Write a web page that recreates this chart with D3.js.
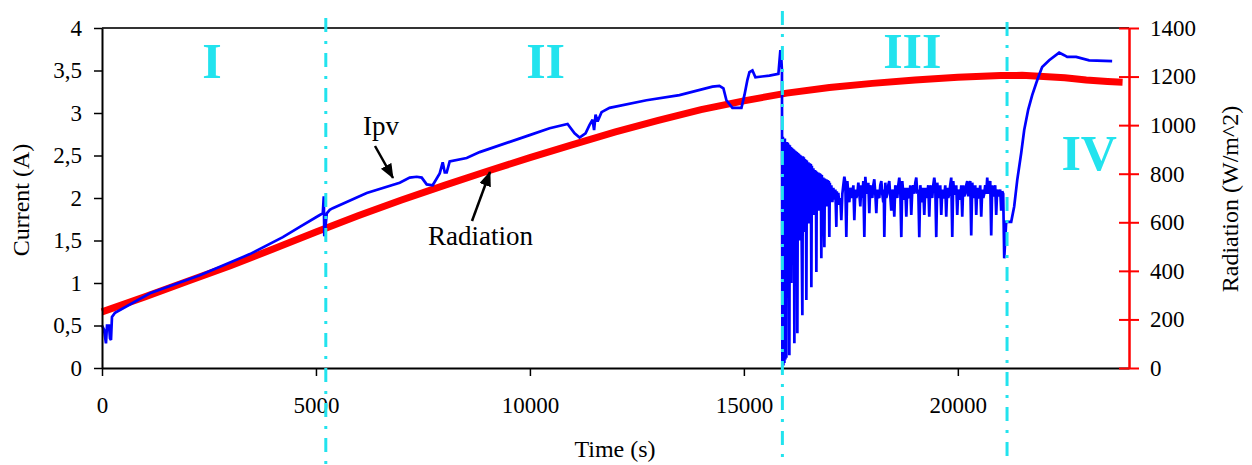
<!DOCTYPE html>
<html>
<head>
<meta charset="utf-8">
<script src="https://cdn.jsdelivr.net/npm/d3@7"></script>
<style>
  body { margin: 0; background: #fff; }
  text { font-family: "Liberation Serif", "Times New Roman", serif; fill: #000; }
</style>
</head>
<body>
<svg width="1252" height="465"></svg>
<script>
// tick values
var timeTicks = [0, 5000, 10000, 15000, 20000];
var currentTicks = [0, 0.5, 1, 1.5, 2, 2.5, 3, 3.5, 4];
var radiationTicks = [0, 200, 400, 600, 800, 1000, 1200, 1400];

// phase boundaries (s) and names
var phaseBounds = [5230, 15900, 21150];
var phaseNames = ["I", "II", "III", "IV"];

// radiation (W/m^2) vs time (s)
var radiation = [
  [0, 231], [1000, 293], [2000, 357], [3000, 421], [4000, 490], [5000, 560],
  [6000, 628], [7000, 692], [8000, 752], [9000, 810], [10000, 866], [11000, 920],
  [12000, 972], [13000, 1020], [14000, 1064], [15000, 1100], [16000, 1132],
  [17000, 1155], [18000, 1172], [19000, 1186], [20000, 1197], [21000, 1204],
  [21500, 1205], [22000, 1200], [22500, 1195], [23000, 1186], [23500, 1180], [23850, 1177]
];

// Ipv (A) vs time (s), phases I and II
var ipvRise = [
  [0, 0.5], [47, 0.45], [93, 0.29], [117, 0.5], [163, 0.5], [187, 0.35], [210, 0.33],
  [233, 0.6], [304, 0.65], [1121, 0.88], [2288, 1.09], [3455, 1.34], [4226, 1.54],
  [4623, 1.66], [5090, 1.8], [5160, 1.82], [5183, 2.02], [5195, 1.55], [5210, 1.6],
  [5253, 1.82], [5323, 1.86], [5393, 1.88], [6187, 2.06], [6958, 2.18], [7191, 2.24],
  [7355, 2.25], [7471, 2.24], [7588, 2.16], [7728, 2.15], [7892, 2.29], [7962, 2.42],
  [8010, 2.3], [8055, 2.3], [8125, 2.43], [8522, 2.47], [8826, 2.54], [9993, 2.74],
  [10460, 2.82], [10880, 2.87], [11044, 2.76], [11160, 2.71], [11300, 2.76], [11394, 2.86],
  [11464, 2.92], [11500, 2.8], [11534, 2.98], [11581, 2.9], [11674, 3.01], [11861, 3.06],
  [12725, 3.15], [13495, 3.21], [14266, 3.31], [14429, 3.32], [14522, 3.29], [14592, 3.15],
  [14732, 3.06], [14943, 3.06], [15013, 3.21], [15083, 3.39], [15130, 3.48], [15200, 3.5],
  [15270, 3.42], [15597, 3.44], [15807, 3.46], [15853, 3.74], [15877, 3.62], [15890, 3.5]
];

// Ipv phase III (oscillation)
var ipvOscillation = [
  [15900, 0.05], [15912, 2.72], [15923, 0.03], [15935, 2.7], [15947, 0.06], [15958, 2.7],
  [15970, 0.1], [15982, 2.66], [15993, 0.12], [16005, 2.66], [16017, 1.6], [16028, 2.65],
  [16040, 1.2], [16052, 2.63], [16063, 0.15], [16075, 2.62], [16087, 1.5], [16098, 2.6],
  [16110, 1.0], [16122, 2.59], [16134, 1.7], [16145, 2.58], [16157, 1.4], [16168, 2.57],
  [16180, 0.29], [16192, 2.56], [16204, 1.6], [16215, 2.55], [16227, 1.3], [16239, 2.54],
  [16250, 0.41], [16262, 2.53], [16274, 1.7], [16285, 2.52], [16297, 1.5], [16309, 2.51],
  [16320, 1.8], [16332, 2.5], [16367, 0.62], [16379, 2.49], [16390, 1.7], [16402, 2.48],
  [16414, 1.6], [16425, 2.46], [16437, 1.8], [16449, 2.45], [16460, 0.8], [16472, 2.44],
  [16484, 1.75], [16507, 2.42], [16530, 1.7], [16542, 2.41], [16554, 1.85], [16565, 2.4],
  [16577, 0.95], [16589, 2.38], [16600, 1.8], [16624, 2.35], [16647, 1.8], [16659, 2.33],
  [16670, 1.9], [16682, 2.32], [16694, 1.13], [16705, 2.31], [16717, 1.9], [16740, 2.3],
  [16764, 1.85], [16775, 2.29], [16787, 1.95], [16799, 2.28], [16810, 1.29], [16822, 2.27],
  [16834, 1.9], [16857, 2.24], [16881, 1.42], [16892, 2.23], [16904, 1.95], [16927, 2.22],
  [16951, 1.9], [16962, 2.21], [16974, 2.0], [16986, 2.2], [16997, 1.54], [17009, 2.18],
  [17021, 1.95], [17044, 2.15], [17068, 1.95], [17091, 2.12], [17114, 1.98], [17138, 2.1],
  [17161, 1.66], [17172, 2.08], [17184, 1.95], [17207, 2.06], [17231, 1.92], [17254, 2.0],
  [17277, 1.74], [17301, 2.05], [17324, 2.15], [17348, 2.25], [17371, 2.18], [17394, 1.54],
  [17418, 2.2], [17441, 2.05], [17464, 1.95], [17488, 2.12], [17511, 2.08], [17534, 2.0],
  [17558, 2.15], [17581, 1.74], [17605, 2.1], [17628, 2.0], [17651, 2.05], [17675, 2.18],
  [17698, 2.05], [17721, 1.9], [17745, 2.15], [17768, 2.0], [17791, 2.2], [17815, 1.54],
  [17838, 2.25], [17862, 2.1], [17885, 2.05], [17908, 2.18], [17931, 1.82], [17955, 2.15],
  [17978, 2.05], [18002, 2.0], [18025, 2.15], [18048, 2.22], [18072, 2.05], [18095, 1.82],
  [18118, 2.1], [18142, 2.02], [18165, 2.0], [18188, 2.15], [18212, 2.2], [18235, 2.05],
  [18258, 1.95], [18270, 2.1], [18282, 1.54], [18305, 2.18], [18328, 2.0], [18352, 2.05],
  [18375, 2.15], [18398, 2.2], [18422, 2.02], [18445, 1.85], [18469, 2.1], [18492, 2.05],
  [18515, 1.78], [18539, 2.15], [18562, 2.05], [18585, 2.0], [18609, 2.15], [18632, 2.24],
  [18655, 2.1], [18679, 1.54], [18702, 2.2], [18726, 2.05], [18749, 1.98], [18772, 2.12],
  [18796, 1.78], [18819, 2.12], [18842, 2.02], [18866, 2.0], [18889, 2.15], [18912, 1.8],
  [18936, 2.1], [18959, 2.15], [18982, 2.05], [19006, 2.18], [19029, 2.24], [19052, 2.05],
  [19076, 2.1], [19099, 1.54], [19122, 2.15], [19146, 2.05], [19169, 1.95], [19192, 2.12],
  [19216, 1.8], [19239, 2.12], [19262, 2.0], [19286, 2.05], [19309, 2.15], [19332, 1.78],
  [19356, 2.15], [19379, 2.05], [19402, 2.0], [19426, 2.15], [19449, 2.24], [19472, 2.15],
  [19496, 1.54], [19519, 2.18], [19542, 2.05], [19566, 2.0], [19589, 2.15], [19613, 1.8],
  [19636, 2.1], [19659, 2.0], [19683, 2.02], [19706, 2.15], [19729, 1.78], [19753, 2.12],
  [19776, 2.0], [19799, 2.05], [19822, 2.15], [19846, 2.24], [19870, 1.54], [19893, 2.2],
  [19916, 2.05], [19940, 2.05], [19963, 2.15], [19986, 1.8], [20010, 2.1], [20033, 2.02],
  [20056, 1.98], [20080, 2.15], [20103, 1.78], [20126, 2.15], [20150, 2.02], [20173, 2.05],
  [20196, 2.15], [20220, 2.2], [20243, 2.02], [20266, 2.1], [20290, 2.2], [20313, 1.56],
  [20337, 2.18], [20360, 2.05], [20383, 2.0], [20407, 2.15], [20430, 1.8], [20453, 2.12],
  [20477, 2.0], [20500, 2.02], [20523, 2.15], [20547, 1.78], [20570, 2.1], [20594, 2.0],
  [20617, 2.05], [20640, 2.15], [20664, 2.05], [20687, 2.24], [20710, 2.05], [20733, 2.1],
  [20757, 2.2], [20780, 1.56], [20803, 2.15], [20827, 2.02], [20850, 2.05], [20873, 2.15],
  [20897, 1.8], [20920, 2.1], [20943, 2.02], [20967, 2.05], [20990, 2.1], [21013, 1.85],
  [21037, 2.08], [21060, 2.05], [21084, 1.29]
];

// Ipv phase IV (recovery)
var ipvRecovery = [
  [21107, 1.5], [21130, 1.72], [21247, 1.72], [21317, 1.9], [21388, 2.21], [21481, 2.53],
  [21551, 2.8], [21645, 3.04], [21738, 3.21], [21831, 3.35], [21901, 3.45], [21971, 3.54],
  [22135, 3.62], [22368, 3.71], [22485, 3.68], [22555, 3.66], [22765, 3.66], [23069, 3.62],
  [23606, 3.61]
];

var svg = d3.select("svg");
var plotL = 102, plotR = 1129, plotT = 28, plotB = 368;

var x = d3.scaleLinear().domain([0, 24000]).range([plotL, plotR]);
var yI = d3.scaleLinear().domain([0, 4]).range([plotB, plotT]);
var yR = d3.scaleLinear().domain([0, 1400]).range([plotB, plotT]);

svg.append("rect").attr("width", 1252).attr("height", 465).attr("fill", "#fff");

// top frame
svg.append("line")
  .attr("x1", plotL).attr("x2", plotR).attr("y1", plotT).attr("y2", plotT)
  .attr("stroke", "#333").attr("stroke-width", 2);

// lines
var radLine = d3.line()
  .x(function(d) { return x(d[0]); })
  .y(function(d) { return yR(d[1]); });

var ipvLine = d3.line()
  .x(function(d) { return x(d[0]); })
  .y(function(d) { return yI(d[1]); });

svg.append("path")
  .datum(radiation)
  .attr("d", radLine)
  .attr("fill", "none")
  .attr("stroke", "#ff0000")
  .attr("stroke-width", 7);

var ipvAll = ipvRise.concat(ipvOscillation, ipvRecovery);
svg.append("path")
  .datum(ipvAll)
  .attr("d", ipvLine)
  .attr("fill", "none")
  .attr("stroke", "#0000ff")
  .attr("stroke-width", 2.7)
  .attr("stroke-linejoin", "miter")
  .attr("stroke-miterlimit", 2);

// axes
var axisFont = "23px";

var gx = svg.append("g")
  .attr("transform", "translate(0," + plotB + ")")
  .call(d3.axisBottom(x).tickValues(timeTicks).tickSize(8).tickSizeOuter(0).tickPadding(21)
    .tickFormat(d3.format("d")));
gx.select(".domain").attr("stroke", "#000").attr("stroke-width", 2);
gx.selectAll(".tick line").attr("stroke", "#000").attr("stroke-width", 1.5);
gx.selectAll("text").style("font-size", axisFont).style("font-family", "Liberation Serif");

var gy = svg.append("g")
  .attr("transform", "translate(" + plotL + ",0)")
  .call(d3.axisLeft(yI).tickValues(currentTicks).tickSize(8).tickSizeOuter(0).tickPadding(12)
    .tickFormat(function(d) { return String(d).replace(".", ","); }));
gy.select(".domain").attr("stroke", "#000").attr("stroke-width", 2);
gy.selectAll(".tick line").attr("stroke", "#000").attr("stroke-width", 1.5);
gy.selectAll("text").style("font-size", axisFont).style("font-family", "Liberation Serif");

var gr = svg.append("g")
  .attr("transform", "translate(" + plotR + ",0)")
  .call(d3.axisRight(yR).tickValues(radiationTicks).tickSize(10).tickSizeOuter(0).tickPadding(11)
    .tickFormat(d3.format("d")));
gr.select(".domain").attr("stroke", "#ff0000").attr("stroke-width", 2.5);
gr.selectAll(".tick line").attr("stroke", "#ff0000").attr("stroke-width", 2).attr("x1", -10);
gr.selectAll("text").style("font-size", axisFont).style("font-family", "Liberation Serif");

// axis titles
svg.append("text")
  .attr("x", 615).attr("y", 457)
  .attr("text-anchor", "middle")
  .style("font-size", "24px")
  .text("Time (s)");

svg.append("text")
  .attr("transform", "translate(29,200) rotate(-90)")
  .attr("text-anchor", "middle")
  .style("font-size", "24px")
  .text("Current (A)");

svg.append("text")
  .attr("transform", "translate(1238,199) rotate(-90)")
  .attr("text-anchor", "middle")
  .style("font-size", "24px")
  .text("Radiation (W/m^2)");

// phase separators
var cyan = "#22e3ee";
var sepTops = [18, 11, 22];
svg.selectAll(".sep")
  .data(phaseBounds)
  .enter().append("line")
  .attr("class", "sep")
  .attr("x1", function(d) { return x(d); })
  .attr("x2", function(d) { return x(d); })
  .attr("y1", function(d, i) { return sepTops[i]; })
  .attr("y2", 465)
  .attr("stroke", cyan)
  .attr("stroke-width", 3)
  .attr("stroke-dasharray", "14,9,3,9");

// phase names, placed in data coords
var namePos = [[2568, 3.41], [10367, 3.41], [18937, 3.53], [23070, 2.33]];
svg.selectAll(".phase")
  .data(phaseNames)
  .enter().append("text")
  .attr("class", "phase")
  .attr("x", function(d, i) { return x(namePos[i][0]); })
  .attr("y", function(d, i) { return yI(namePos[i][1]); })
  .attr("text-anchor", "middle")
  .style("font-size", "50px")
  .style("font-weight", "bold")
  .style("fill", cyan)
  .text(function(d) { return d; });

// annotations
svg.append("defs").append("marker")
  .attr("id", "head")
  .attr("markerUnits", "userSpaceOnUse")
  .attr("markerWidth", 16).attr("markerHeight", 14)
  .attr("refX", 14).attr("refY", 6)
  .attr("orient", "auto")
  .append("path")
  .attr("d", "M0,0 L15,6 L0,12 Z")
  .attr("fill", "#000");

svg.append("text").attr("x", 363).attr("y", 135).style("font-size", "27px").text("Ipv");
svg.append("line")
  .attr("x1", 375).attr("y1", 146).attr("x2", 393).attr("y2", 178)
  .attr("stroke", "#000").attr("stroke-width", 2.5)
  .attr("marker-end", "url(#head)");

svg.append("text").attr("x", 428).attr("y", 245).style("font-size", "27px").text("Radiation");
svg.append("line")
  .attr("x1", 472).attr("y1", 221).attr("x2", 490).attr("y2", 172)
  .attr("stroke", "#000").attr("stroke-width", 2.5)
  .attr("marker-end", "url(#head)");
</script>
</body>
</html>
